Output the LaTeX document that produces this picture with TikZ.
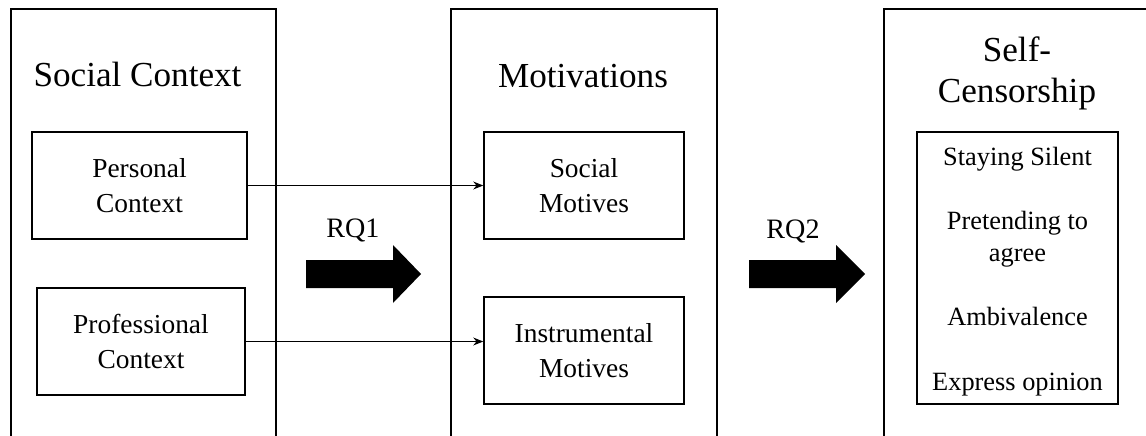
\documentclass[tikz,border=0pt]{standalone}
\usepackage{fontspec}
\setmainfont{Liberation Serif}
\usepackage{tikz}
\usetikzlibrary{arrows.meta}

\begin{document}
\begin{tikzpicture}[>={Stealth[length=5.7pt,width=4.5pt]}, x=0.02cm, y=-0.02cm, line width=0.85pt,
  subbox/.style={draw, align=center, inner sep=0pt, font=\fontsize{15.6}{19.9}\selectfont},
  title/.style={anchor=base, align=center, font=\fontsize{20}{22.8}\selectfont},
  item/.style={anchor=base, font=\fontsize{15}{18.5}\selectfont},
  rq/.style={anchor=base, font=\fontsize{16}{19}\selectfont}]
\useasboundingbox (0,0) rectangle (1146,436);

\draw (11,440) -- (11,9) -- (276,9) -- (276,440);
\draw (451,440) -- (451,9) -- (717,9) -- (717,440);
\draw (884,440) -- (884,9) -- (1150,9);

\node[title] (social) at (137.5,86) {Social Context};
\node[title] (motiv) at (583,87) {Motivations};
\node[title] (selfc) at (1017,102) {Self-\\Censorship};

\node[subbox, minimum width=4.3cm, minimum height=2.14cm] (personal) at (139.5,185.5) {Personal\\Context};
\node[subbox, minimum width=4.16cm, minimum height=2.14cm] (prof) at (141,341.5) {Professional\\Context};
\node[subbox, minimum width=4cm, minimum height=2.14cm] (socmot) at (584,185.5) {Social\\Motives};
\node[subbox, minimum width=4cm, minimum height=2.14cm] (instmot) at (584,350.5) {Instrumental\\Motives};
\node[draw, minimum width=4.02cm, minimum height=5.44cm] (forms) at (1017.5,268) {};

\node[item] (silent) at (1017.5,165) {Staying Silent};
\node[item] (pretend) at (1017.5,229) {Pretending to};
\node[item] (agree) at (1017.5,261) {agree};
\node[item] (ambiv) at (1017.5,325) {Ambivalence};
\node[item] (express) at (1017.5,390) {Express opinion};

\draw[->, line width=0.6pt] (personal.east) -- (socmot.west);
\draw[->, line width=0.6pt] (prof.east) -- (prof.east -| instmot.west);

\node[rq] (rqone) at (353,237) {RQ1};
\node[rq] (rqtwo) at (793,238) {RQ2};
\fill (306,260) -- (393,260) -- (393,245) -- (421,274) -- (393,303) -- (393,288) -- (306,288) -- cycle;
\fill (749,260) -- (836,260) -- (836,245) -- (865,274) -- (836,303) -- (836,288) -- (749,288) -- cycle;
\end{tikzpicture}
\end{document}
